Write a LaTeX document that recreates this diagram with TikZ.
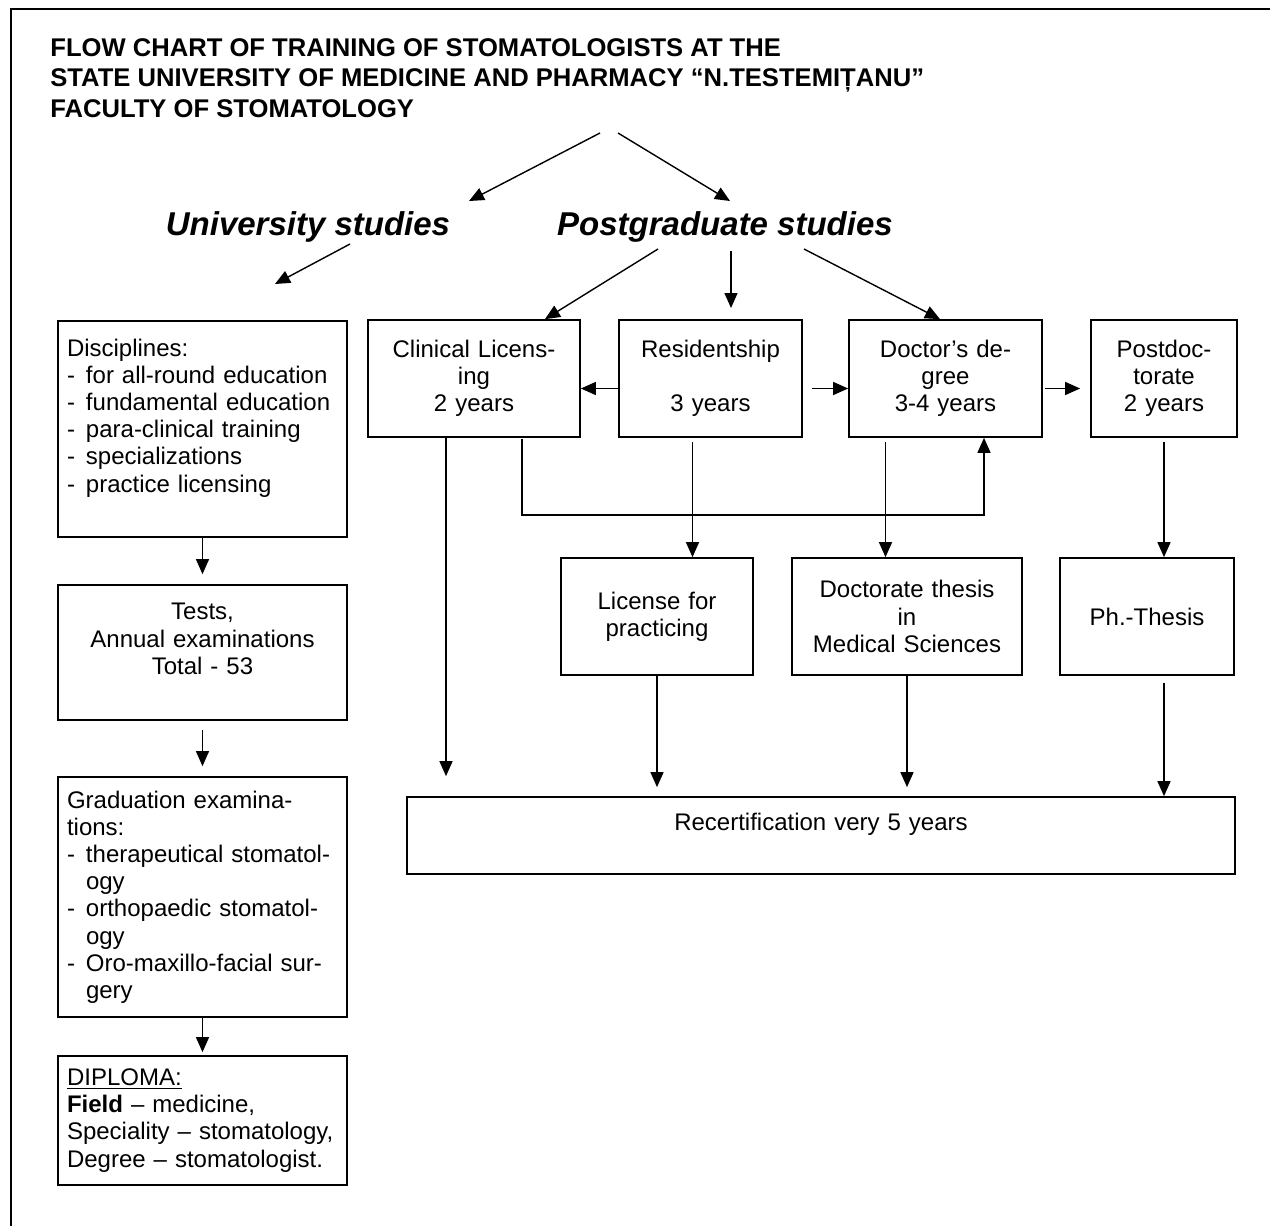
\documentclass[tikz,border=0pt]{standalone}
\usepackage{fontspec}
\setmainfont{Liberation Sans}
\usetikzlibrary{arrows.meta}
\newcommand\bodyfont{\fontsize{12pt}{13.6pt}\selectfont}
\newcommand\itm[1]{\makebox[9.5pt][l]{-}#1}
\newcommand\ind{\hspace*{9.5pt}}
\tikzset{
	box/.style={draw,line width=.85pt,inner xsep=4.5pt,inner ysep=0pt,font=\bodyfont},
	cbox/.style={box,align=center},
	lbox/.style={box,align=left},
	head/.style={font=\fontsize{16.5pt}{19pt}\selectfont\bfseries\itshape,inner sep=0pt},
	arr/.style={-{Triangle[length=7.5pt,width=6.5pt]},line width=.7pt},
}
\begin{document}
\begin{tikzpicture}[x=.5pt,y=-.5pt]
	\useasboundingbox(0,0)rectangle(1270,1226);
	\draw[line width=.9pt](11,1226)--(11,9)--(1270,9);
	\node[anchor=north west,inner sep=0pt,align=left,font=\fontsize{12.8pt}{15.25pt}\selectfont\bfseries](ttl)at(50,38)
		{FLOW CHART OF TRAINING OF STOMATOLOGISTS AT THE\\
		STATE UNIVERSITY OF MEDICINE AND PHARMACY “N.TESTEMIȚANU”\\
		FACULTY OF STOMATOLOGY};
	% two branches
	\node[head](uni)at(308,227){University studies};
	\node[head](pg)at(725,227){Postgraduate studies};
	\coordinate(rootL)at(600,133);
	\coordinate(rootR)at(618,133);
	\coordinate(uniTip)at(469,201);
	\coordinate(pgTip)at(730,201);
	\draw[arr](rootL)--(uniTip);
	\draw[arr](rootR)--(pgTip);
	% university column
	\node[lbox,text width=135.5pt,minimum height=108pt](disc)at(202.5,429)
		{Disciplines:\\\itm{for all-round education}\\\itm{fundamental education}\\
		\itm{para-clinical training}\\\itm{specializations}\\\itm{practice licensing}\\~};
	\node[cbox,text width=135.5pt,minimum height=67.5pt](tests)at(202.5,652.5)
		{Tests,\\Annual examinations\\Total - 53\\~};
	\node[lbox,text width=135.5pt,minimum height=120pt](grad)at(202.5,897)
		{Graduation examina-\\tions:\\\itm{therapeutical stomatol-}\\\ind ogy\\
		\itm{orthopaedic stomatol-}\\\ind ogy\\\itm{Oro-maxillo-facial sur-}\\\ind gery};
	\node[lbox,text width=135.5pt,minimum height=64.5pt](dipl)at(202.5,1120.5)
		{\underline{DIPLOMA:}\\\textbf{Field} – medicine,\\Speciality – stomatology,\\Degree – stomatologist.};
	\coordinate(uniOut)at(350,244);
	\coordinate(uniTo)at(275,284);
	\draw[arr](uniOut)--(uniTo);
	\draw[arr,shorten >=5pt](disc)--(tests);
	\draw[arr,shorten <=4.5pt,shorten >=5pt](tests)--(grad);
	\draw[arr,shorten >=1.5pt](grad)--(dipl);
	% postgraduate row
	\node[cbox,text width=97pt,minimum height=58.5pt](clin)at(474,378.5){Clinical Licens-\\ing\\2 years};
	\node[cbox,text width=82.5pt,minimum height=58.5pt](resid)at(710.5,378.5){Residentship\\~\\3 years};
	\node[cbox,text width=87.5pt,minimum height=58.5pt](doct)at(945.5,378.5){Doctor’s de-\\gree\\3-4 years};
	\node[cbox,text width=64pt,minimum height=58.5pt](postd)at(1164,378.5){Postdoc-\\torate\\2 years};
	\node[cbox,text width=87pt,minimum height=58.5pt](lic)at(657,616.5){License for\\practicing};
	\node[cbox,text width=106pt,minimum height=58.5pt](thesis)at(907,616.5){Doctorate thesis\\in\\Medical Sciences};
	\node[cbox,text width=78pt,minimum height=58.5pt](phd)at(1147,616.5){Ph.-Thesis};
	\node[cbox,text width=405pt,minimum height=38.5pt](recert)at(821,835.5){Recertification very 5 years\\~};
	\coordinate(pgL)at(658,249);
	\coordinate(pgM)at(731,251);
	\coordinate(pgMto)at(731,308);
	\coordinate(pgR)at(804,249);
	\draw[arr](pgL)--([xshift=35.5pt]clin.north);
	\draw[arr](pgM)--(pgMto);
	\draw[arr](pgR)--([xshift=-2.75pt]doct.north);
	\draw[arr]([yshift=-5pt]resid.west)--([yshift=-5pt]clin.east);
	\draw[arr]([yshift=-5pt,xshift=4.5pt]resid.east)--([yshift=-5pt]doct.west);
	\draw[arr]([yshift=-5pt,xshift=1pt]doct.east)--([yshift=-5pt,xshift=-5pt]postd.west);
	\coordinate(clA)at([xshift=-14pt]clin.south);
	\coordinate(clB)at([xshift=24pt]clin.south);
	\coordinate(reA)at([xshift=-9pt]resid.south);
	\coordinate(doA)at([xshift=-30pt]doct.south);
	\coordinate(doB)at([xshift=19.25pt]doct.south);
	\draw[arr]([yshift=-.5pt]clB)--++(0,76)-|(doB);
	\draw[arr,shorten <=2pt](reA)--(reA|-lic.north);
	\draw[arr,shorten <=2pt](doA)--(doA|-thesis.north);
	\draw[arr,shorten <=2pt](postd.south)--(postd.south|-phd.north);
	% down to recertification
	\draw[arr,shorten >=10pt](clA)--(clA|-recert.north);
	\draw[arr,shorten >=4.5pt](lic.south)--(lic.south|-recert.north);
	\draw[arr,shorten >=4.5pt](thesis.south)--(thesis.south|-recert.north);
	\draw[arr,shorten <=3.5pt](postd.south|-phd.south)--(postd.south|-recert.north);
\end{tikzpicture}
\end{document}
